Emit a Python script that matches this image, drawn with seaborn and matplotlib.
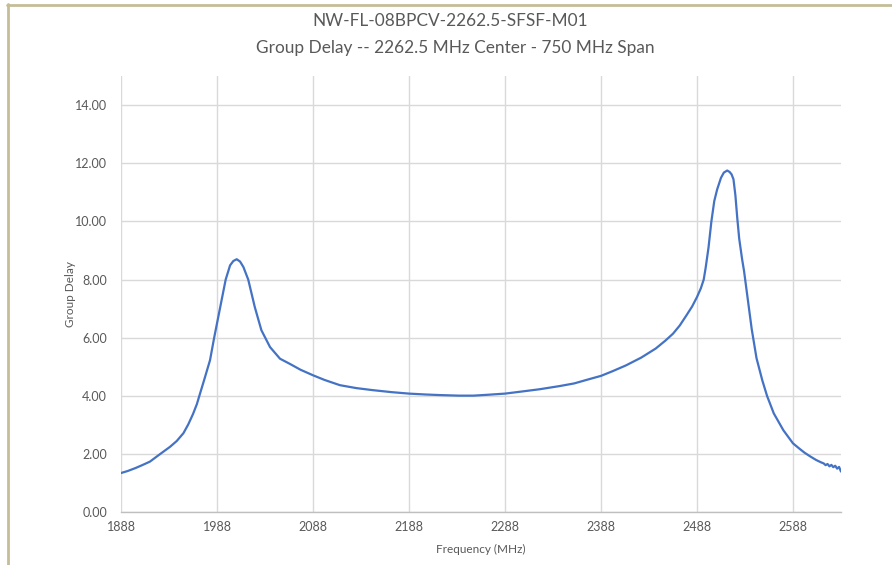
import matplotlib
matplotlib.use("Agg")
import matplotlib.pyplot as plt
import matplotlib.lines as mlines
import seaborn as sns
import pandas as pd

# values
freq_mhz = [1888, 1895, 1903, 1910, 1918, 1928.6, 1939, 1946, 1953, 1958, 1963, 1967,
            1970, 1974.5, 1980.7, 1985, 1991, 1997, 2001.6, 2005, 2008.5, 2012,
            2015.5, 2020.5, 2027.3, 2034.2, 2043.2, 2053.6, 2064, 2075, 2088, 2100,
            2116, 2133, 2150, 2170, 2188, 2205, 2220, 2240, 2255, 2270, 2288, 2305,
            2324, 2345, 2360, 2376, 2388, 2400, 2414, 2430, 2445, 2455, 2463, 2470,
            2477, 2483, 2488, 2492, 2495, 2497, 2500, 2503, 2506, 2509, 2513,
            2516, 2519.5, 2522, 2524, 2526, 2528, 2530, 2532, 2535, 2537, 2541,
            2545, 2550, 2556, 2561, 2568, 2578, 2588, 2595, 2600, 2606, 2612, 2617,
            2620, 2622, 2624, 2626, 2628, 2630, 2632, 2634, 2636, 2638]
group_delay = [1.35, 1.42, 1.52, 1.62, 1.74, 2.00, 2.25, 2.45, 2.72, 3.02, 3.38, 3.72,
               4.05, 4.54, 5.23, 6.00, 7.00, 8.00, 8.49, 8.64, 8.70, 8.62,
               8.43, 8.00, 7.06, 6.26, 5.68, 5.28, 5.10, 4.90, 4.71, 4.55,
               4.37, 4.27, 4.20, 4.13, 4.08, 4.05, 4.03, 4.01, 4.01, 4.04, 4.08, 4.15,
               4.23, 4.34, 4.43, 4.58, 4.69, 4.85, 5.05, 5.32, 5.63, 5.90, 6.14, 6.42,
               6.77, 7.08, 7.40, 7.70, 8.00, 8.40, 9.10, 10.00, 10.70, 11.10, 11.50,
               11.68, 11.75, 11.70, 11.62, 11.45, 10.90, 10.10, 9.40, 8.70, 8.30, 7.30,
               6.30, 5.30, 4.54, 4.00, 3.40, 2.82, 2.37, 2.18, 2.05, 1.92, 1.80, 1.72,
               1.68, 1.62, 1.66, 1.58, 1.63, 1.55, 1.60, 1.50, 1.56, 1.40]
x_ticks = [1888, 1988, 2088, 2188, 2288, 2388, 2488, 2588]
y_ticks = [0, 2, 4, 6, 8, 10, 12, 14]

df = pd.DataFrame({"Frequency (MHz)": freq_mhz, "Group Delay": group_delay})

sns.set_theme(style="whitegrid")
plt.rcParams["font.family"] = ["Lato", "DejaVu Sans"]

grey_txt = "#595959"
fig = plt.figure(figsize=(8.92, 5.65), dpi=100)
ax = fig.add_axes([0.1357, 0.0933, 0.8071, 0.7722])

sns.lineplot(data=df, x="Frequency (MHz)", y="Group Delay", ax=ax,
             color="#4472C4", linewidth=1.6, estimator=None, sort=False)

ax.set_xlim(1888, 2638)
ax.set_ylim(0, 15)
ax.set_xticks(x_ticks)
ax.set_yticks(y_ticks)
ax.set_xticklabels([str(t) for t in x_ticks])
ax.set_yticklabels([f"{t:.2f}" for t in y_ticks])
ax.tick_params(axis="both", length=0, labelsize=9, colors=grey_txt)
ax.tick_params(axis="y", pad=10)
ax.tick_params(axis="x", pad=6)
ax.grid(True, color="#D9D9D9", linewidth=1)
for side in ["top", "right", "left"]:
    ax.spines[side].set_visible(False)
ax.spines["bottom"].set_color("#BFBFBF")
ax.spines["bottom"].set_linewidth(1)
ax.set_xlabel("Frequency (MHz)", fontsize=8.5, color=grey_txt, labelpad=8)
ax.set_ylabel("Group Delay", fontsize=8.5, color=grey_txt)
ax.yaxis.set_label_coords(-0.0625, 0.5)

fig.text(0.505, 0.963, "NW-FL-08BPCV-2262.5-SFSF-M01", ha="center", va="center",
         fontsize=12.4, color=grey_txt)
fig.text(0.51, 0.915, "Group Delay -- 2262.5 MHz Center - 750 MHz Span", ha="center",
         va="center", fontsize=12.4, color=grey_txt)

# chart frame (left and top edges only are visible in the crop)
frame_col = "#C4BD97"
fig.add_artist(mlines.Line2D([0.009, 0.009], [0.0, 0.993], color=frame_col, linewidth=2,
                             transform=fig.transFigure))
fig.add_artist(mlines.Line2D([0.008, 1.0], [0.992, 0.992], color=frame_col, linewidth=2,
                             transform=fig.transFigure))

fig.savefig("out.png", dpi=100, facecolor="white")
